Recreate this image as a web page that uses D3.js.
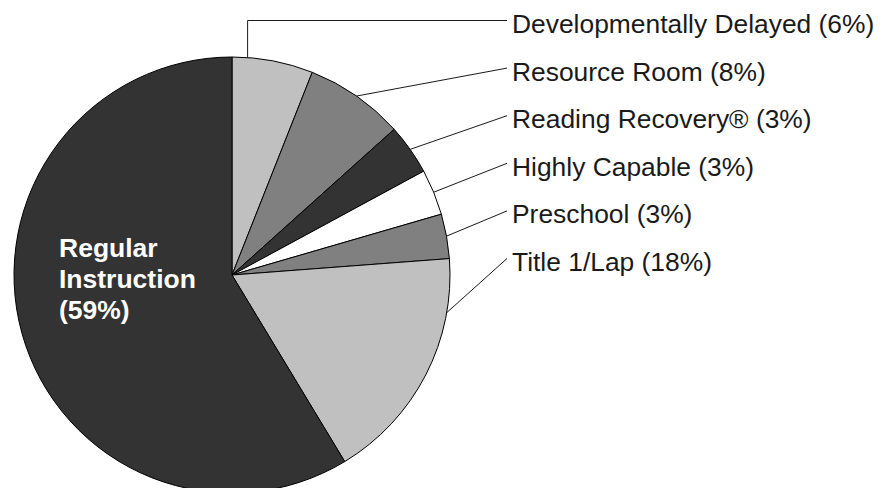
<!DOCTYPE html>
<html>
<head>
<meta charset="utf-8">
<script src="https://cdn.jsdelivr.net/npm/d3@7"></script>
<style>
  body { margin: 0; background: #fff; }
  svg { display: block; }
</style>
</head>
<body>
<div id="chart"></div>
<script>
// slices, clockwise from 12 o'clock
var categories = ['Developmentally Delayed', 'Resource Room', 'Reading Recovery\u00ae',
  'Highly Capable', 'Preschool', 'Title 1/Lap', 'Regular Instruction']
var shares = [6.0, 7.35, 3.75, 3.4, 3.3, 17.55, 58.65]
var labelPct = [6, 8, 3, 3, 3, 18, 59]
var fills = ['#c0c0c0', '#808080', '#333333', '#ffffff', '#808080', '#c0c0c0', '#333333']

var width = 885
var height = 488
var cx = 232, cy = 275, radius = 218

var svg = d3.select('#chart')
  .append('svg')
    .attr('width', width)
    .attr('height', height)

var pie = d3.pie().sort(null).value(function(d){ return d })
var arcs = pie(shares)

var arc = d3.arc().innerRadius(0).outerRadius(radius)

var g = svg.append('g').attr('transform', 'translate(' + cx + ',' + cy + ')')

g.selectAll('path')
  .data(arcs)
  .enter()
  .append('path')
    .attr('d', arc)
    .attr('fill', function(d, i){ return fills[i] })
    .attr('stroke', '#000')
    .attr('stroke-width', 1)

// outside labels for all but the last slice
var labelX = 512
var lineEndX = 507
var firstBase = 33
var step = 47.6
// where along each slice the leader touches the rim (0..1)
var attach = [0.19, 0.5, 0.5, 0.5, 0.5, 0.226]

var outside = arcs.slice(0, 6)

outside.forEach(function(d, i) {
  var a = d.startAngle + (d.endAngle - d.startAngle) * attach[i]
  var px = cx + radius * Math.sin(a)
  var py = cy - radius * Math.cos(a)
  var base = firstBase + i * step
  var ly = base - 12.5
  var pts
  if (i === 0) {
    pts = [[px, py], [px, ly], [lineEndX, ly]]
  } else {
    pts = [[px, py], [lineEndX, ly]]
  }
  svg.append('path')
    .attr('d', d3.line()(pts))
    .attr('fill', 'none')
    .attr('stroke', '#1a1a1a')
    .attr('stroke-width', 1)

  svg.append('text')
    .attr('x', labelX)
    .attr('y', base)
    .attr('font-family', 'Liberation Sans, Arial, sans-serif')
    .attr('font-size', 26.4)
    .attr('fill', '#1a1a1a')
    .text(categories[i] + ' (' + labelPct[i] + '%)')
})

// inside label for the big slice
var inner = ['Regular', 'Instruction', '(' + labelPct[6] + '%)']
svg.append('text')
  .attr('font-family', 'Liberation Sans, Arial, sans-serif')
  .attr('font-size', 26.5)
  .attr('font-weight', 'bold')
  .attr('fill', '#fff')
  .selectAll('tspan')
  .data(inner)
  .enter()
  .append('tspan')
    .attr('x', cx - 173)
    .attr('y', function(d, i){ return cy - 18.3 + i * 31.3 })
    .text(function(d){ return d })
</script>
</body>
</html>
